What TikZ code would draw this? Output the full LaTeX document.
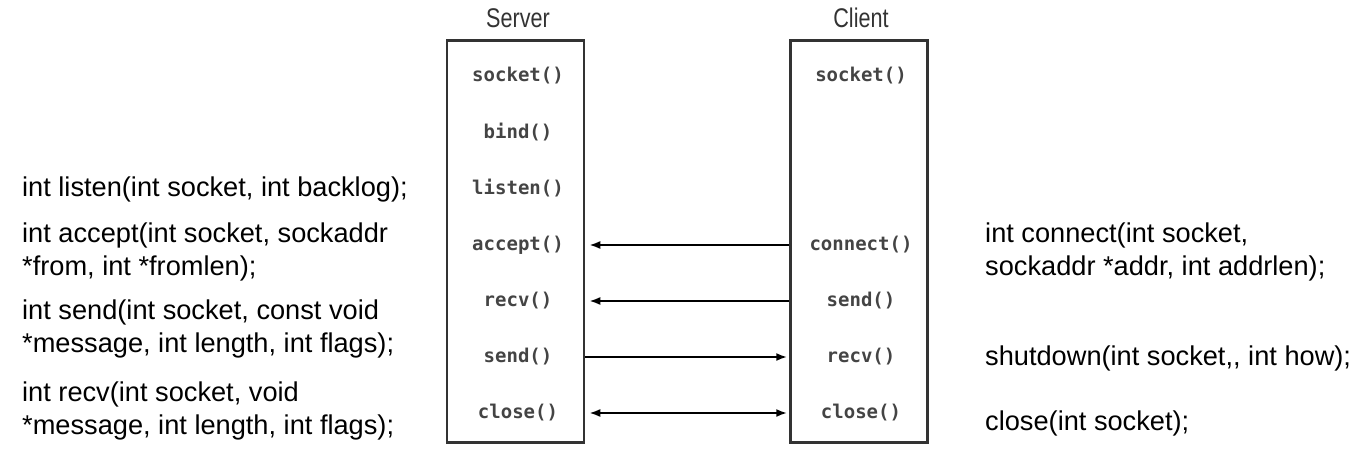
\documentclass[tikz,border=0pt]{standalone}
\usepackage{fontspec}
\setmainfont{Liberation Sans}
\newfontfamily\boxmono{DejaVu Sans Mono}
\usetikzlibrary{arrows.meta}
\definecolor{boxgray}{HTML}{333333}
\definecolor{calltext}{HTML}{444444}
\begin{document}
\begin{tikzpicture}[x=1pt,y=-1pt,
  lane/.style={draw=boxgray, line width=2.5pt, minimum width=137pt, minimum height=402pt, inner sep=0pt},
  call/.style={font=\boxmono\bfseries\fontsize{19}{21}\selectfont, text=calltext, inner sep=0pt},
  ttl/.style={font=\fontsize{27}{29}\selectfont, text=boxgray, xscale=0.8, inner sep=0pt},
  proto/.style={font=\fontsize{27.2}{33}\selectfont, anchor=base west, align=left, inner sep=0pt},
  arr/.style={line width=2pt, -{Latex[length=11pt,width=8pt]}},
  arrb/.style={line width=2pt, {Latex[length=11pt,width=8pt]}-{Latex[length=11pt,width=8pt]}}
]
\useasboundingbox (0,0) rectangle (1360,461);
% boxes
\node[lane] (server) at (515.5,241.5) {};
\node[lane] (client) at (859,241.5) {};
\node[ttl] (tserver) at (518,18) {Server};
\node[ttl] (tclient) at (861,18) {Client};
% server calls
\node[call] (ssocket) at (518,76) {socket()};
\node[call] (sbind) at (518,132) {bind()};
\node[call] (slisten) at (518,188) {listen()};
\node[call] (saccept) at (518,245) {accept()};
\node[call] (srecv) at (518,301) {recv()};
\node[call] (ssend) at (518,357) {send()};
\node[call] (sclose) at (518,413) {close()};
% client calls
\node[call] (csocket) at (861,76) {socket()};
\node[call] (cconnect) at (861,245) {connect()};
\node[call] (csend) at (861,301) {send()};
\node[call] (crecv) at (861,357) {recv()};
\node[call] (cclose) at (861,413) {close()};
% arrows
\draw[arr, shorten >=4pt] (cconnect -| client.west) -- (saccept -| server.east);
\draw[arr, shorten >=4pt] (csend -| client.west) -- (srecv -| server.east);
\draw[arr, shorten >=2pt] (ssend -| server.east) -- (crecv -| client.west);
\draw[arrb, shorten <=4pt, shorten >=2pt] (sclose -| server.east) -- (cclose -| client.west);
% left prototypes (base = baseline of last line)
\node[proto] (plisten) at (22,196) {int listen(int socket, int backlog);};
\node[proto] (paccept) at (22,275) {int accept(int socket, sockaddr\\*from, int *fromlen);};
\node[proto] (psend) at (22,352) {int send(int socket, const void\\*message, int length, int flags);};
\node[proto] (precv) at (22,434) {int recv(int socket, void\\*message, int length, int flags);};
% right prototypes
\node[proto] (pconnect) at (985,275) {int connect(int socket,\\sockaddr *addr, int addrlen);};
\node[proto] (pshutdown) at (985,365) {shutdown(int socket,{},{} int how);};
\node[proto] (pclose) at (985,430) {close(int socket);};
\end{tikzpicture}
\end{document}
